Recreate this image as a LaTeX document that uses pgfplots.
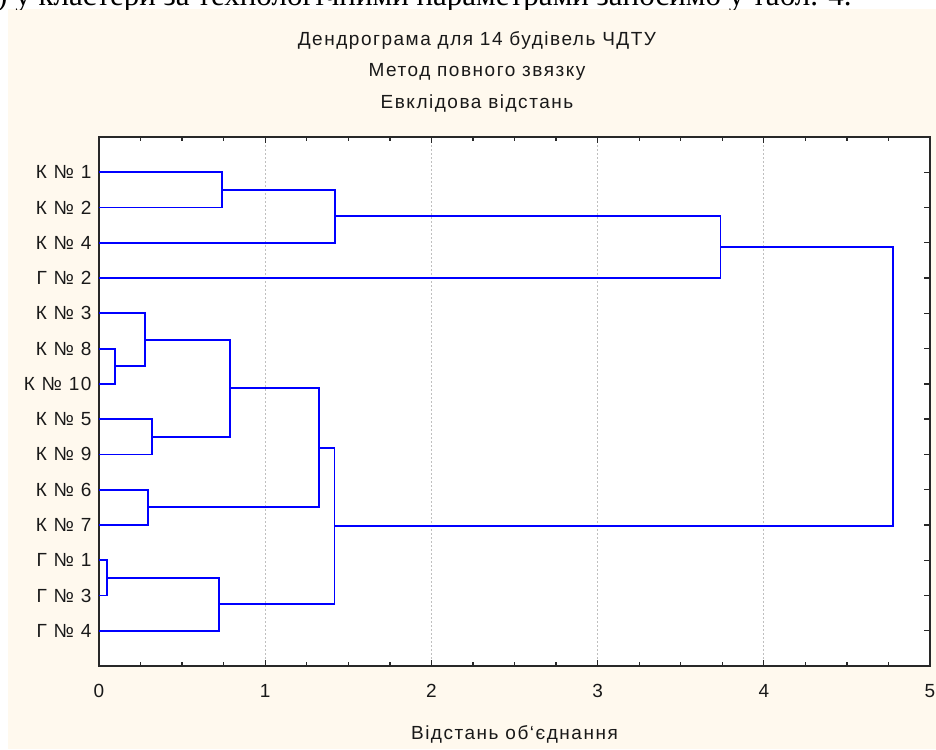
\documentclass[border=0pt]{standalone}
\usepackage{pgfplots}
\pgfplotsset{compat=1.18}
\usepackage{fontspec}
\setmainfont{Liberation Sans}[LetterSpace=8]
\newfontfamily\serifdoc{Liberation Serif}
\definecolor{cream}{RGB}{255,249,238}
\definecolor{dendro}{RGB}{0,0,255}
\definecolor{axcol}{RGB}{40,40,40}
\definecolor{txt}{RGB}{25,25,25}
\pgfplotsset{dl/.style={color=dendro, line width=1.8pt, mark=none, solid}}
\begin{document}
\begin{tikzpicture}[x=1pt,y=1pt]
\fill[white] (0,0) rectangle (936,749);
\fill[cream] (8,0) rectangle (936,739.5);
\begin{scope}
\clip (0,739.5) rectangle (936,749);
\node[anchor=base west, inner sep=0, text=black, font=\serifdoc\fontsize{31}{33}\selectfont] at (-3,743.5) {) у кластери за технологічними параметрами заносимо у табл. 4.};
\end{scope}
\node[text=txt, font=\fontsize{19}{21}\selectfont] at (477,708) {Дендрограма для 14 будівель ЧДТУ};
\node[text=txt, font=\fontsize{19}{21}\selectfont] at (477,677) {Метод повного звязку};
\node[text=txt, font=\fontsize{19}{21}\selectfont] at (477,645) {Евклідова відстань};
\begin{axis}[
  at={(99pt,83pt)}, anchor=south west,
  scale only axis, width=831pt, height=529pt,
  xmin=0, xmax=5, ymin=0, ymax=15, y dir=reverse,
  axis background/.style={fill=white},
  axis line style={line width=1.8pt, axcol},
  tick align=inside,
  tick style={line width=1.3pt, axcol},
  major tick length=6pt, minor tick length=4pt,
  xtick={0,1,2,3,4,5}, xticklabels={0,1,2,3,4,5},
  minor x tick num=3,
  ytick={1,...,14},
  yticklabels={К № 1,К № 2,К № 4,Г № 2,К № 3,К № 8,К № 10,К № 5,К № 9,К № 6,К № 7,Г № 1,Г № 3,Г № 4},
  tick label style={font=\fontsize{19}{21}\selectfont, text=txt},
  yticklabel style={xshift=-4pt},
  xticklabel style={yshift=-15pt},
  xmajorgrids,
  major grid style={gray!50, line width=0.8pt, dash pattern=on 2pt off 2pt},
  xlabel={Відстань об`єднання},
  xlabel style={at={(axis description cs:0.5,-0.129)}, anchor=center, font=\fontsize{19}{21}\selectfont, text=txt},
]
% K1 - K2
\addplot[dl] coordinates {(0,1) (0.74,1) (0.74,2) (0,2)};
% (K1,K2) - K4
\addplot[dl] coordinates {(0.74,1.5) (1.42,1.5) (1.42,3) (0,3)};
% (..) - G2
\addplot[dl] coordinates {(1.42,2.25) (3.74,2.25) (3.74,4) (0,4)};
% K8 - K10
\addplot[dl] coordinates {(0,6) (0.098,6) (0.098,7) (0,7)};
% K3 - (K8,K10)
\addplot[dl] coordinates {(0,5) (0.277,5) (0.277,6.5) (0.098,6.5)};
% K5 - K9
\addplot[dl] coordinates {(0,8) (0.317,8) (0.317,9) (0,9)};
% (K3,K8,K10) - (K5,K9)
\addplot[dl] coordinates {(0.277,5.75) (0.79,5.75) (0.79,8.5) (0.317,8.5)};
% K6 - K7
\addplot[dl] coordinates {(0,10) (0.297,10) (0.297,11) (0,11)};
% (...) - (K6,K7)
\addplot[dl] coordinates {(0.79,7.125) (1.326,7.125) (1.326,10.5) (0.297,10.5)};
% G1 - G3
\addplot[dl] coordinates {(0,12) (0.046,12) (0.046,13) (0,13)};
% (G1,G3) - G4
\addplot[dl] coordinates {(0.046,12.5) (0.72,12.5) (0.72,14) (0,14)};
% K cluster - G cluster
\addplot[dl] coordinates {(1.326,8.8125) (1.417,8.8125) (1.417,13.25) (0.72,13.25)};
% final
\addplot[dl] coordinates {(3.74,3.125) (4.775,3.125) (4.775,11.03125) (1.417,11.03125)};
\end{axis}
\pgfresetboundingbox
\path[use as bounding box] (0,0) rectangle (936,749);
\end{tikzpicture}
\end{document}
